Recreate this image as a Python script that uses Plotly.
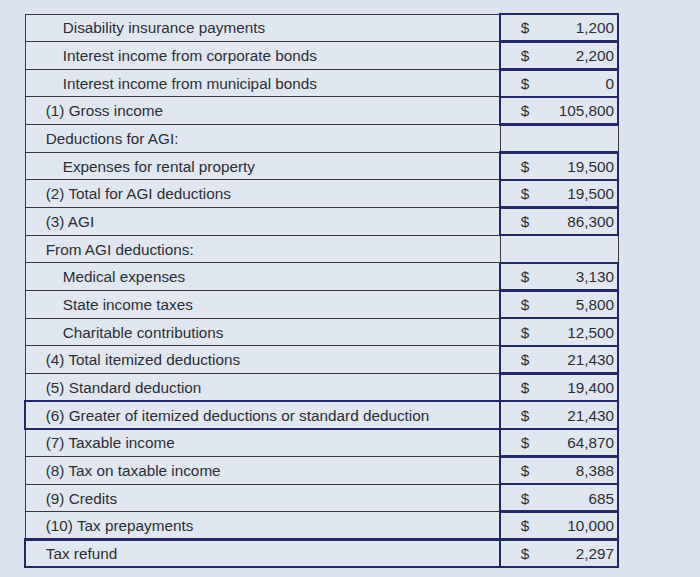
import plotly.graph_objects as go

NB = "\u00a0"

# row labels and indent level (0 = heading, 1 = sub item)
labels = [
    "Disability insurance payments",
    "Interest income from corporate bonds",
    "Interest income from municipal bonds",
    "(1) Gross income",
    "Deductions for AGI:",
    "Expenses for rental property",
    "(2) Total for AGI deductions",
    "(3) AGI",
    "From AGI deductions:",
    "Medical expenses",
    "State income taxes",
    "Charitable contributions",
    "(4) Total itemized deductions",
    "(5) Standard deduction",
    "(6) Greater of itemized deductions or standard deduction",
    "(7) Taxable income",
    "(8) Tax on taxable income",
    "(9) Credits",
    "(10) Tax prepayments",
    "Tax refund",
]
indent = [1, 1, 1, 0, 0, 1, 0, 0, 0, 1, 1, 1, 0, 0, 0, 0, 0, 0, 0, 0]
amounts = [1200, 2200, 0, 105800, None, 19500, 19500, 86300, None,
           3130, 5800, 12500, 21430, 19400, 21430, 64870, 8388, 685, 10000, 2297]
highlight = [False] * 14 + [True] + [False] * 4 + [True]

BG = "#dde3ee"
CELL = "#e0e7f1"
GRID = "#343844"
NAVY = "#1f2a66"
CLEAR = "rgba(0,0,0,0)"
TEXT = "#2b2d36"

label_txt = [NB * (3 if lv == 0 else 7) + s for s, lv in zip(labels, indent)]
value_txt = ["" if v is None else f"{v:,}" for v in amounts]
dollar_txt = ["" if v is None else NB * 3 + "$" for v in amounts]
blank_txt = [""] * len(labels)

label_navy = [NAVY if h else CLEAR for h in highlight]
value_navy = [CLEAR if v is None else NAVY for v in amounts]

dom = dict(x=[25 / 700, 618 / 700], y=[0, 1])
widths = [475, 118]
# amounts sit closer to the right border than the table padding allows
dom_vals = dict(x=[25 / 700, 622 / 700], y=[0, 1])
widths_vals = [475, 122]
row_h = 27.65
font = dict(family="Liberation Sans, Arial", size=15.3, color=TEXT)


def split(cols):
    # first row goes in the header so the table starts right at the top
    return [[c[0]] for c in cols], [c[1:] for c in cols]


fig = go.Figure()

# base grid with labels
h_vals, c_vals = split([label_txt, blank_txt])
fig.add_trace(go.Table(
    domain=dom,
    columnwidth=widths,
    header=dict(values=h_vals, align="left", height=row_h,
                fill=dict(color=CELL), line=dict(color=GRID, width=1), font=font),
    cells=dict(values=c_vals, align="left", height=row_h,
               fill=dict(color=CELL), line=dict(color=GRID, width=1), font=font),
))

# thick navy borders round the amount cells, "$" at their left
h_vals, c_vals = split([blank_txt, dollar_txt])
h_line, c_line = split([label_navy, value_navy])
fig.add_trace(go.Table(
    domain=dom,
    columnwidth=widths,
    header=dict(values=h_vals, align="left", height=row_h,
                fill=dict(color=CLEAR), line=dict(color=[c[0] for c in h_line], width=2.5), font=font),
    cells=dict(values=c_vals, align="left", height=row_h,
               fill=dict(color=CLEAR), line=dict(color=c_line, width=2.5), font=font),
))

# amounts, right aligned
h_vals, c_vals = split([blank_txt, value_txt])
fig.add_trace(go.Table(
    domain=dom_vals,
    columnwidth=widths_vals,
    header=dict(values=h_vals, align="right", height=row_h,
                fill=dict(color=CLEAR), line=dict(color=CLEAR, width=0), font=font),
    cells=dict(values=c_vals, align="right", height=row_h,
               fill=dict(color=CLEAR), line=dict(color=CLEAR, width=0), font=font),
))

fig.update_layout(
    width=700,
    height=577,
    margin=dict(l=0, r=0, t=14, b=0),
    paper_bgcolor=BG,
    plot_bgcolor=BG,
)

fig.write_html("out.html", config={"displayModeBar": False},
               post_script="document.body.style.margin='0';")
